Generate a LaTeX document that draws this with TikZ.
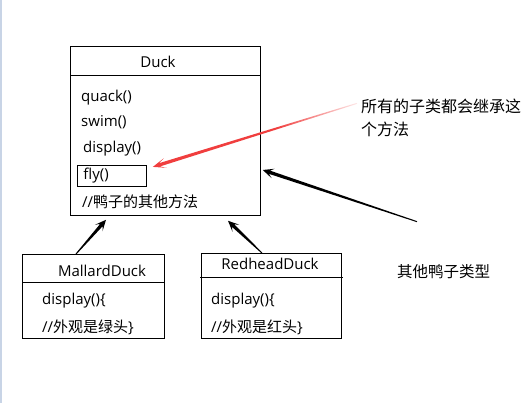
\documentclass[tikz,border=0pt]{standalone}
\usepackage{fontspec}
\setmainfont{Open Sans}
\newfontfamily\cjk{Noto Sans CJK SC}
\usetikzlibrary{calc}
\definecolor{edgeblue}{RGB}{200,212,230}
\definecolor{arrowred}{RGB}{240,62,62}
\pgfdeclarehorizontalshading{redfade}{100bp}{color(0bp)=(arrowred); color(25bp)=(arrowred); color(55bp)=(arrowred); color(75bp)=(arrowred!12); color(100bp)=(arrowred!12)}
\def\taper[#1](#2)(#3)(#4){\path[#1] ($(#2)!0.5pt!90:(#3)$) -- ($($(#3)!7pt!(#2)$)!1.7pt!-90:(#2)$) -- ($($(#3)!#4!(#2)$)!5pt!-90:(#2)$) -- (#3) -- ($($(#3)!#4!(#2)$)!5pt!90:(#2)$) -- ($($(#3)!7pt!(#2)$)!1.7pt!90:(#2)$) -- ($(#2)!0.5pt!-90:(#3)$) -- cycle;}

\begin{document}
\begin{tikzpicture}[x=1pt, y=-1pt,
	classbox/.style={draw, line width=0.8pt, inner sep=0pt},
	txt/.style={anchor=west, inner sep=0pt, font=\fontsize{15pt}{18pt}\selectfont},
	note/.style={anchor=west, inner sep=0pt, align=left, font=\cjk\fontsize{15.5pt}{23pt}\selectfont}]
			%%%%% START %%%%%
			
			\useasboundingbox (0, 0) rectangle (529, 403);
			\fill[edgeblue] (0, 0) rectangle (2, 403);
			
			\node[classbox, minimum width=190pt, minimum height=169pt, anchor=north west] (duck) at (70, 46) {};
			\draw[line width=0.8pt] (70, 75) -- (260, 75);
			\node[txt, anchor=center] (duckname) at (158, 62) {Duck};
			\node[txt] (quack) at (81, 98) {quack()};
			\node[txt] (swim) at (81, 122) {swim()};
			\node[txt] (display) at (83, 149) {display()};
			\node[classbox, anchor=north west, text width=57pt, inner xsep=6pt, minimum height=21pt, font=\fontsize{15pt}{18pt}\selectfont] (fly) at (77, 165) {fly()};
			\node[txt] (other) at (82, 202) {//{\cjk 鸭子的其他方法}};
			
			\node[classbox, minimum width=142pt, minimum height=84pt, anchor=north west] (mallard) at (22, 254) {};
			\draw[line width=0.8pt] (22, 282) -- (164, 282);
			\node[txt, anchor=center] (mallardname) at (102, 271) {MallardDuck};
			\node[txt] (mallarddisp) at (42, 301) {display()\{};
			\node[txt] (mallardcom) at (42, 327) {//{\cjk 外观是绿头}\}};
			
			\node[classbox, minimum width=140pt, minimum height=85pt, anchor=north west] (redhead) at (201, 253) {};
			\draw[line width=0.8pt] (200, 277) -- (343, 277);
			\node[txt, anchor=center] (redheadname) at (270, 264) {RedheadDuck};
			\node[txt] (redheaddisp) at (211, 301) {display()\{};
			\node[txt] (redheadcom) at (211, 327) {//{\cjk 外观是红头}\}};
			
			\node[note, font=\cjk\fontsize{16pt}{23pt}\selectfont] (inherit) at (361, 117.5) {所有的子类都会继承这\\个方法};
			\node[note] (kinds) at (397, 272) {其他鸭子类型};
			
			\coordinate (redtail) at ($(inherit.north west)+(-4, 5)$);
			\coordinate (kindstail) at ($(kinds.north west)+(20, -43)$);
			
			\taper[shading=redfade](redtail)($(fly.east)+(6, -9)$)(13pt);
			\taper[fill=black](kindstail)($(duck.north east)+(2, 124)$)(11pt);
			\taper[fill=black]($(mallard.north west)+(54, 0)$)($(duck.south west)+(36, 4)$)(11pt);
			\taper[fill=black]($(redhead.north west)+(61, 0)$)($(duck.south west)+(158, 5)$)(11pt);
			
			%%%%% END %%%%%
		\end{tikzpicture}
\end{document}
